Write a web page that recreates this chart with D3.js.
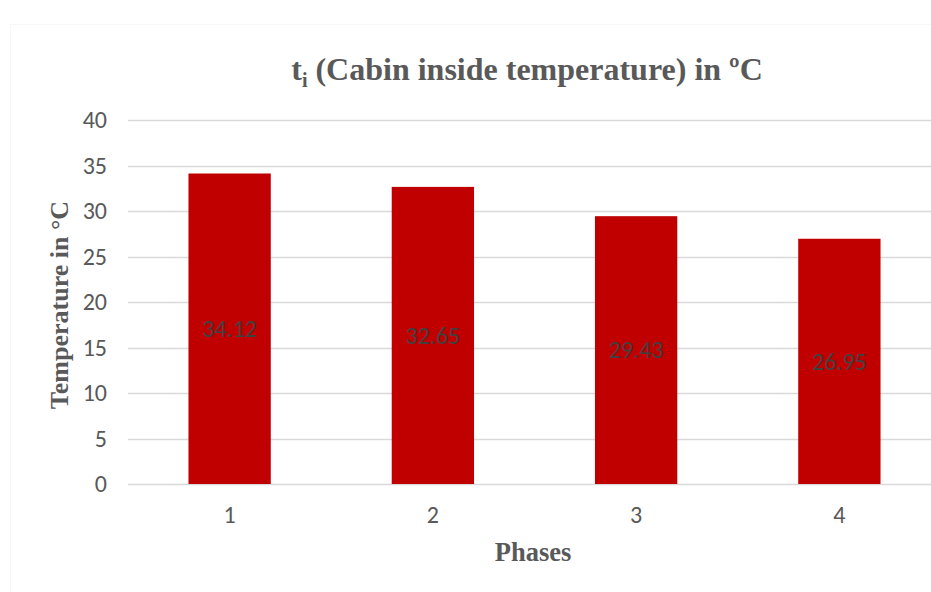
<!DOCTYPE html>
<html>
<head>
<meta charset="utf-8">
<script src="https://cdn.jsdelivr.net/npm/d3@7"></script>
<style>
  html, body { margin: 0; padding: 0; background: #fff; }
  svg { display: block; }
</style>
</head>
<body>
<svg id="chart" width="931" height="592"></svg>
<script>
// Cabin inside temperature per phase
const phases = ["1", "2", "3", "4"];
const temperatures = [34.12, 32.65, 29.43, 26.95];
const yTicks = [0, 5, 10, 15, 20, 25, 30, 35, 40];

const svg = d3.select("#chart");
const W = 931, H = 592;
const plotLeft = 128, plotRight = 941, plotTop = 120, plotBottom = 484;
const sansFont = "Carlito, 'Open Sans', 'Liberation Sans', sans-serif";
const serifFont = "'Liberation Serif', 'Times New Roman', serif";

// faint chart-area frame
svg.append("rect")
  .attr("x", 10.5).attr("y", 24.5)
  .attr("width", W + 20).attr("height", H + 20)
  .attr("fill", "none").attr("stroke", "#f7f7f7");

const x = d3.scaleBand().domain(phases).range([plotLeft, plotRight])
  .paddingInner(0.595).paddingOuter(0.2975);
const y = d3.scaleLinear().domain([0, 40]).range([plotBottom, plotTop]);

// horizontal gridlines
svg.append("g").selectAll("line").data(yTicks).join("line")
  .attr("x1", plotLeft).attr("x2", W)
  .attr("y1", d => Math.round(y(d)) + 0.5).attr("y2", d => Math.round(y(d)) + 0.5)
  .attr("stroke", "#d9d9d9").attr("stroke-width", 1.5);

// y axis tick labels
const yAxis = d3.axisLeft(y).tickValues(yTicks).tickSize(0).tickPadding(0);
const gy = svg.append("g").attr("transform", `translate(${plotLeft - 21},0)`).call(yAxis);
gy.select(".domain").remove();
gy.selectAll("text")
  .attr("font-family", sansFont)
  .attr("font-size", 24).attr("fill", "#595959");

// x axis tick labels
const xAxis = d3.axisBottom(x).tickSize(0).tickPadding(0);
const gx = svg.append("g").attr("transform", `translate(0,${plotBottom + 22})`).call(xAxis);
gx.select(".domain").remove();
gx.selectAll("text")
  .attr("font-family", sansFont)
  .attr("font-size", 24).attr("fill", "#595959");

// bars
svg.append("g").selectAll("rect").data(temperatures).join("rect")
  .attr("x", (d, i) => x(phases[i]))
  .attr("width", x.bandwidth())
  .attr("y", d => y(d))
  .attr("height", d => y(0) - y(d))
  .attr("fill", "#c00000");

// value labels, centred in each bar
svg.append("g").selectAll("text").data(temperatures).join("text")
  .attr("x", (d, i) => x(phases[i]) + x.bandwidth() / 2)
  .attr("y", d => (y(d) + y(0)) / 2)
  .attr("dy", "0.35em")
  .attr("text-anchor", "middle")
  .attr("font-family", sansFont)
  .attr("font-size", 24).attr("fill", "#404040")
  .text(d => d.toFixed(2));

// title
const title = svg.append("text")
  .attr("x", 527).attr("y", 80)
  .attr("text-anchor", "middle")
  .attr("font-family", serifFont)
  .attr("font-weight", "bold").attr("font-size", 32).attr("fill", "#595959");
title.append("tspan").text("t");
title.append("tspan").attr("font-size", 20).attr("dy", 7).text("i");
title.append("tspan").attr("dy", -7).text(" (Cabin inside temperature) in \u00BAC");

// axis titles
svg.append("text")
  .attr("transform", "translate(68,305) rotate(-90)")
  .attr("text-anchor", "middle")
  .attr("font-family", serifFont)
  .attr("font-weight", "bold").attr("font-size", 26).attr("fill", "#595959")
  .text("Temperature in \u00B0C");

svg.append("text")
  .attr("x", 533).attr("y", 561)
  .attr("text-anchor", "middle")
  .attr("font-family", serifFont)
  .attr("font-weight", "bold").attr("font-size", 26.5).attr("fill", "#595959")
  .text("Phases");
</script>
</body>
</html>
